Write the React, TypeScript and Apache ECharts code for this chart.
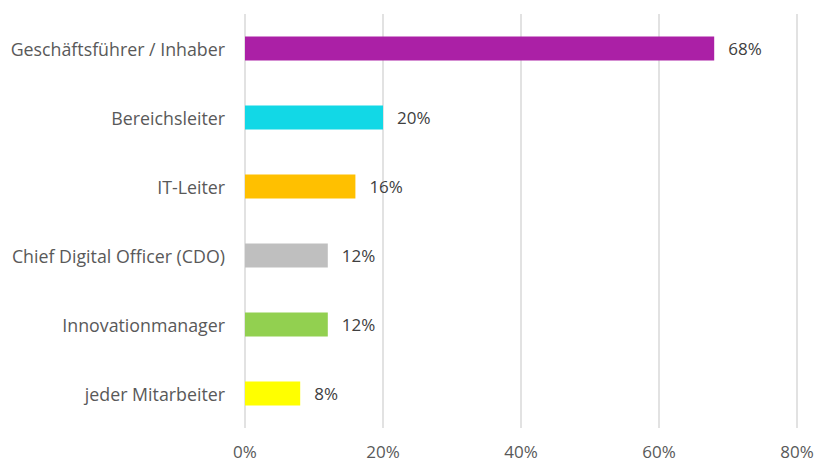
import React, { useEffect, useRef } from "react";
import * as echarts from "echarts";

const categories = [
  "Geschäftsführer / Inhaber",
  "Bereichsleiter",
  "IT-Leiter",
  "Chief Digital Officer (CDO)",
  "Innovationmanager",
  "jeder Mitarbeiter",
];
const values = [68, 20, 16, 12, 12, 8];
const colors = ["#ab20a6", "#12d8e6", "#ffc000", "#bfbfbf", "#92d050", "#ffff00"];
const xTicks = [0, 20, 40, 60, 80];

export default function App() {
  const ref = useRef<HTMLDivElement>(null);
  useEffect(() => {
    if (!ref.current) return;
    const chart = echarts.init(ref.current, undefined, { renderer: "svg" });
    const font = "'Open Sans', 'Noto Sans', sans-serif";
    chart.setOption({
      animation: false,
      grid: { left: 245, right: 21, top: 14, bottom: 34, containLabel: false },
      xAxis: {
        type: "value",
        min: xTicks[0],
        max: xTicks[xTicks.length - 1],
        interval: 20,
        axisLine: { show: false },
        axisTick: { show: false },
        splitLine: { lineStyle: { color: "#d9d9d9", width: 1.5 } },
        axisLabel: {
          formatter: "{value}%",
          color: "#595959",
          fontSize: 17,
          fontFamily: font,
          margin: 15,
        },
      },
      yAxis: {
        type: "category",
        inverse: true,
        data: categories,
        axisLine: { show: false },
        axisTick: { show: false },
        axisLabel: {
          color: "#595959",
          fontSize: 17.8,
          fontFamily: font,
          margin: 20,
        },
      },
      series: [
        {
          type: "bar",
          barWidth: "35%",
          data: values.map((v, i) => ({ value: v, itemStyle: { color: colors[i] } })),
          label: {
            show: true,
            position: "right",
            distance: 14,
            formatter: "{c}%",
            color: "#404040",
            fontSize: 17,
            fontFamily: font,
          },
        },
      ],
    });
    return () => chart.dispose();
  }, []);
  return (
    <div
      ref={ref}
      style={{ position: "absolute", left: 0, top: 0, width: 818, height: 462 }}
    />
  );
}
